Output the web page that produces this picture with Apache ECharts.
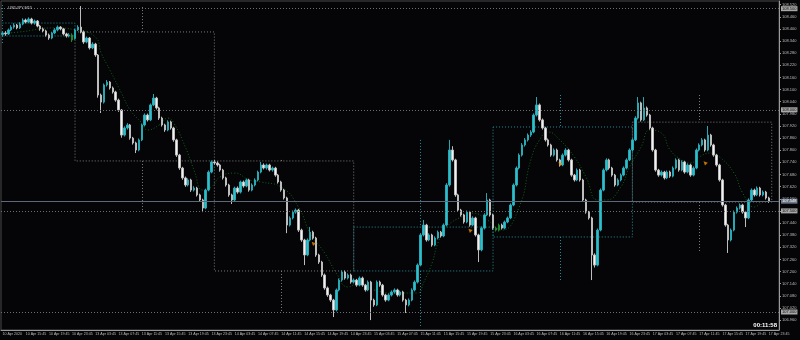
<!DOCTYPE html>
<html><head><meta charset="utf-8">
<script src="https://cdn.jsdelivr.net/npm/echarts@6/dist/echarts.min.js"></script>
<style>html,body{margin:0;padding:0;background:#050507}#c{width:800px;height:340px}</style>
</head><body><div id="c"></div>
<script>
const chartTitle = 'USDJPY,M15';
const timerText = '00:11:58';
const dayNames = ['10 Apr','13 Apr','14 Apr','15 Apr','16 Apr','17 Apr'];

const xTickLabels = ['10 Apr 2020','10 Apr 15:45','10 Apr 19:45','10 Apr 23:45',
 '13 Apr 03:45','13 Apr 07:45','13 Apr 11:45','13 Apr 15:45','13 Apr 19:45','13 Apr 23:45',
 '14 Apr 03:45','14 Apr 07:45','14 Apr 11:45','14 Apr 15:45','14 Apr 19:45','14 Apr 23:45',
 '15 Apr 03:45','15 Apr 07:45','15 Apr 11:45','15 Apr 15:45','15 Apr 19:45','15 Apr 23:45',
 '16 Apr 03:45','16 Apr 07:45','16 Apr 11:45','16 Apr 15:45','16 Apr 19:45','16 Apr 23:45',
 '17 Apr 03:45','17 Apr 07:45','17 Apr 11:45','17 Apr 15:45','17 Apr 19:45','17 Apr 23:45'];

const yTicks = [106.960,107.020,107.080,107.140,107.200,107.260,107.320,107.380,107.440,107.500,
 107.560,107.620,107.680,107.740,107.800,107.860,107.920,107.980,108.040,108.100,108.160,108.220,
 108.280,108.340,108.400,108.460,108.520];

const opens = [108.372,108.380,108.375,108.395,108.409,108.419,108.405,108.424,108.444,108.434,
108.449,108.429,108.439,108.414,108.400,108.390,108.370,108.355,108.380,108.395,
108.409,108.400,108.375,108.365,108.370,108.352,108.395,108.409,108.385,108.335,
108.355,108.306,108.325,108.271,108.073,108.038,108.123,108.137,108.108,108.088,
108.048,107.999,107.875,107.910,107.925,107.860,107.836,107.801,107.851,107.925,
107.974,107.950,108.024,108.058,108.009,107.959,107.925,107.900,107.940,107.910,
107.851,107.776,107.712,107.663,107.628,107.653,107.603,107.613,107.579,107.554,
107.514,107.603,107.692,107.742,107.737,107.727,107.702,107.663,107.628,107.579,
107.554,107.613,107.593,107.643,107.623,107.653,107.603,107.628,107.653,107.692,
107.727,107.712,107.727,107.702,107.712,107.677,107.643,107.603,107.564,107.430,
107.465,107.494,107.504,107.405,107.356,107.282,107.356,107.395,107.366,107.282,
107.247,107.183,107.119,107.084,107.059,107.010,107.109,107.158,107.198,107.168,
107.183,107.148,107.158,107.133,107.168,107.133,107.109,107.148,107.059,107.035,
107.148,107.133,107.084,107.059,107.084,107.099,107.109,107.084,107.099,107.059,
107.035,107.059,107.109,107.148,107.232,107.381,107.430,107.356,107.381,107.331,
107.366,107.395,107.376,107.430,107.628,107.801,107.752,107.579,107.504,107.480,
107.445,107.494,107.430,107.465,107.381,107.307,107.415,107.480,107.554,107.480,
107.415,107.405,107.430,107.415,107.445,107.465,107.529,107.628,107.712,107.776,
107.826,107.851,107.875,107.890,107.974,108.024,107.950,107.910,107.851,107.826,
107.776,107.801,107.752,107.727,107.776,107.801,107.752,107.677,107.653,107.702,
107.653,107.554,107.494,107.465,107.282,107.232,107.405,107.603,107.702,107.752,
107.712,107.677,107.628,107.653,107.677,107.712,107.752,107.801,107.851,107.959,
108.034,107.950,108.009,107.974,107.910,107.801,107.702,107.677,107.692,107.663,
107.692,107.672,107.712,107.752,107.702,107.742,107.692,107.727,107.677,107.712,
107.801,107.826,107.851,107.801,107.875,107.826,107.776,107.727,107.653,107.529,
107.430,107.356,107.405,107.494,107.514,107.529,107.494,107.465,107.554,107.603,
107.579,107.613,107.579,107.593,107.564];

const closes = [108.380,108.375,108.395,108.409,108.419,108.405,108.424,108.444,108.434,108.449,
108.429,108.439,108.414,108.400,108.390,108.370,108.355,108.380,108.395,108.409,
108.400,108.375,108.365,108.370,108.345,108.395,108.409,108.385,108.335,108.355,
108.306,108.325,108.271,108.073,108.038,108.123,108.137,108.108,108.088,108.048,
107.999,107.875,107.910,107.925,107.860,107.836,107.801,107.851,107.925,107.974,
107.950,108.024,108.058,108.009,107.959,107.925,107.900,107.940,107.910,107.851,
107.776,107.712,107.663,107.628,107.653,107.603,107.613,107.579,107.554,107.514,
107.603,107.692,107.742,107.737,107.727,107.702,107.663,107.628,107.579,107.554,
107.613,107.593,107.643,107.623,107.653,107.603,107.628,107.653,107.692,107.727,
107.712,107.727,107.702,107.712,107.677,107.643,107.603,107.564,107.430,107.465,
107.494,107.504,107.405,107.356,107.282,107.356,107.395,107.366,107.282,107.247,
107.183,107.119,107.084,107.059,107.010,107.109,107.158,107.198,107.168,107.183,
107.148,107.158,107.133,107.168,107.133,107.109,107.148,107.059,107.035,107.148,
107.133,107.084,107.059,107.084,107.099,107.109,107.084,107.099,107.059,107.035,
107.059,107.109,107.148,107.232,107.381,107.430,107.356,107.381,107.331,107.366,
107.395,107.376,107.430,107.628,107.801,107.752,107.579,107.504,107.480,107.445,
107.494,107.430,107.465,107.381,107.307,107.415,107.480,107.554,107.480,107.415,
107.405,107.430,107.415,107.445,107.465,107.529,107.628,107.712,107.776,107.826,
107.851,107.875,107.890,107.974,108.024,107.950,107.910,107.851,107.826,107.776,
107.801,107.752,107.727,107.776,107.801,107.752,107.677,107.653,107.702,107.653,
107.554,107.494,107.465,107.282,107.232,107.405,107.603,107.702,107.752,107.712,
107.677,107.628,107.653,107.677,107.712,107.752,107.801,107.851,107.959,108.034,
107.950,108.009,107.974,107.910,107.801,107.702,107.677,107.692,107.663,107.692,
107.672,107.712,107.752,107.702,107.742,107.692,107.727,107.677,107.712,107.801,
107.826,107.851,107.801,107.875,107.826,107.776,107.727,107.653,107.529,107.430,
107.356,107.405,107.494,107.514,107.529,107.494,107.465,107.554,107.603,107.579,
107.613,107.579,107.593,107.564,107.548];

const lows = [108.362,108.366,108.370,108.389,108.401,108.398,108.400,108.418,108.427,108.428,
108.422,108.421,108.408,108.391,108.383,108.362,108.346,108.349,108.374,108.388,
108.393,108.368,108.357,108.358,108.335,108.347,108.390,108.378,108.326,108.329,
108.298,108.300,108.262,108.060,107.984,108.031,108.115,108.100,108.080,108.040,
107.990,107.862,107.868,107.902,107.852,107.828,107.786,107.795,107.845,107.918,
107.942,107.944,108.018,108.001,107.950,107.917,107.891,107.894,107.902,107.842,
107.767,107.703,107.654,107.619,107.621,107.594,107.596,107.571,107.545,107.494,
107.508,107.597,107.686,107.728,107.719,107.694,107.655,107.620,107.570,107.534,
107.548,107.585,107.586,107.615,107.617,107.595,107.597,107.621,107.646,107.686,
107.705,107.704,107.695,107.694,107.669,107.635,107.595,107.556,107.390,107.423,
107.458,107.486,107.396,107.347,107.232,107.276,107.349,107.358,107.273,107.238,
107.174,107.110,107.075,107.050,106.975,107.003,107.102,107.150,107.160,107.161,
107.140,107.141,107.125,107.127,107.125,107.101,107.103,106.960,107.026,107.029,
107.125,107.076,107.051,107.053,107.077,107.091,107.076,107.077,107.051,106.995,
107.028,107.053,107.102,107.141,107.226,107.374,107.348,107.350,107.323,107.325,
107.359,107.368,107.370,107.424,107.620,107.744,107.570,107.496,107.472,107.437,
107.439,107.422,107.424,107.373,107.247,107.300,107.408,107.474,107.472,107.407,
107.398,107.398,107.408,107.409,107.439,107.459,107.523,107.621,107.705,107.769,
107.818,107.843,107.866,107.884,107.967,107.942,107.902,107.843,107.818,107.768,
107.769,107.744,107.719,107.721,107.769,107.744,107.669,107.645,107.647,107.645,
107.546,107.486,107.457,107.158,107.220,107.226,107.399,107.597,107.695,107.704,
107.669,107.620,107.622,107.646,107.671,107.705,107.746,107.794,107.845,107.952,
107.942,107.944,107.966,107.902,107.793,107.694,107.669,107.670,107.655,107.657,
107.664,107.666,107.705,107.694,107.696,107.684,107.686,107.669,107.671,107.706,
107.794,107.819,107.793,107.795,107.818,107.768,107.719,107.645,107.521,107.422,
107.292,107.349,107.399,107.487,107.507,107.486,107.420,107.459,107.547,107.571,
107.573,107.571,107.572,107.556,107.540];

const highs = [108.388,108.389,108.402,108.418,108.428,108.425,108.433,108.452,108.451,108.457,
108.455,108.446,108.444,108.420,108.407,108.396,108.377,108.386,108.404,108.417,
108.414,108.405,108.381,108.379,108.378,108.401,108.418,108.513,108.392,108.362,
108.360,108.334,108.331,108.276,108.080,108.130,108.147,108.142,108.115,108.094,
108.055,108.004,107.918,107.934,107.930,107.866,107.842,107.858,107.932,107.982,
107.981,108.031,108.078,108.064,108.015,107.966,107.931,107.948,107.946,107.916,
107.857,107.782,107.718,107.670,107.661,107.659,107.622,107.619,107.585,107.560,
107.610,107.700,107.749,107.752,107.745,107.733,107.708,107.669,107.634,107.585,
107.620,107.621,107.650,107.650,107.660,107.659,107.636,107.661,107.699,107.742,
107.735,107.734,107.733,107.719,107.718,107.683,107.649,107.609,107.570,107.473,
107.502,107.512,107.510,107.412,107.362,107.364,107.420,107.402,107.372,107.288,
107.253,107.190,107.126,107.090,107.065,107.116,107.166,107.206,107.205,107.191,
107.190,107.166,107.164,107.176,107.175,107.139,107.156,107.154,107.066,107.156,
107.155,107.139,107.090,107.092,107.107,107.117,107.115,107.106,107.105,107.065,
107.067,107.117,107.156,107.240,107.390,107.455,107.436,107.389,107.387,107.374,
107.403,107.401,107.438,107.637,107.851,107.820,107.758,107.585,107.510,107.486,
107.502,107.500,107.473,107.471,107.387,107.423,107.488,107.588,107.560,107.486,
107.422,107.437,107.437,107.452,107.472,107.537,107.636,107.720,107.784,107.835,
107.860,107.883,107.899,107.982,108.063,108.031,107.957,107.916,107.858,107.832,
107.809,107.808,107.758,107.784,107.810,107.807,107.758,107.683,107.710,107.708,
107.659,107.560,107.500,107.471,107.290,107.413,107.611,107.710,107.760,107.758,
107.718,107.683,107.661,107.685,107.720,107.760,107.809,107.859,107.968,108.063,
108.040,108.063,108.016,107.980,107.916,107.807,107.708,107.700,107.698,107.700,
107.699,107.720,107.760,107.758,107.750,107.748,107.735,107.733,107.720,107.809,
107.834,107.860,107.857,107.920,107.881,107.832,107.782,107.733,107.659,107.535,
107.436,107.413,107.502,107.522,107.537,107.535,107.500,107.562,107.611,107.610,
107.621,107.619,107.601,107.599,107.570];

const greenBars = [24, 170, 171];

// moving-average style dotted curve (index, price)
const maIndex = [2,6,18,25,32,34,37,41,44,48,50,54,57,59,63,66,69,72,75,80,85,89,96,102,106,111,115,119,123,128,135,143,145,148,150,153,158,162,167,172,178,182,185,188,192,197,201,205,208,213,216,220,223,227,230,234,237,240,244,247,252,255,259,262];
const maValue = [108.380,108.385,108.405,108.395,108.360,108.281,108.197,108.083,107.999,107.935,107.900,107.925,107.959,107.935,107.816,107.702,107.603,107.618,107.668,107.687,107.653,107.643,107.618,107.519,107.390,107.292,107.193,107.124,107.143,107.109,107.094,107.094,107.143,107.242,107.341,107.420,107.470,107.489,107.455,107.405,107.519,107.752,107.851,107.890,107.851,107.767,107.668,107.554,107.554,107.618,107.717,107.816,107.900,107.885,107.801,107.752,107.737,107.767,107.786,107.767,107.687,107.588,107.519,107.554];

// small trade arrows
const arrowIndex = [107, 161, 192, 242];
const arrowPrice = [107.340, 107.405, 107.735, 107.738];

// round levels and current bid
const levelPrices = [108.500, 108.000, 107.500, 107.000];
const bidPrice = 107.548;

// daily candle overlay: body box and high/low whiskers
const dayOpen  = [108.365, 108.385, 107.747, 107.203, 107.371, 107.939];
const dayClose = [108.429, 107.747, 107.203, 107.420, 107.915, 107.544];
const dayHigh  = [108.518, 108.508, 107.752, 107.851, 108.073, 108.073];
const dayLow   = [108.330, 107.494, 107.000, 106.930, 107.158, 107.292];

// ---- build categories (30-minute bars) ----
const pad = n => (n < 10 ? '0' : '') + n;
const categories = [];
dayNames.forEach((d, k) => {
  for (let m = (k === 0 ? 11 * 60 + 45 : 15); m <= 23 * 60 + 45; m += 30) {
    categories.push(d + ' ' + pad(Math.floor(m / 60)) + ':' + pad(m % 60));
  }
});
const nBars = categories.length;
categories.push(' ', '  ', '   ');

const labelMap = {};
xTickLabels.forEach((t, i) => {
  const cat = i === 0 ? categories[0] : t;
  const idx = categories.indexOf(cat);
  if (idx >= 0) labelMap[idx] = t;
});
const showTick = (idx) => labelMap.hasOwnProperty(idx);

const BULL = '#2cc0cc', BEAR = '#f2f2f2', BULL_B = '#27a9b5', BEAR_B = '#bdbdbd', GREEN = '#1d8a2c';
const candleData = opens.map((o, i) => {
  const item = { value: [o, closes[i], lows[i], highs[i]] };
  if (greenBars.indexOf(i) >= 0) item.itemStyle = { color: GREEN, color0: GREEN, borderColor: GREEN, borderColor0: GREEN };
  return item;
});

// day boxes
const dayStart = dayNames.map((d, k) => k === 0 ? 0 : categories.indexOf(d + ' 00:15'));
const dayEnd = dayNames.map((d, k) => k < dayNames.length - 1 ? dayStart[k + 1] : nBars);
const dayMid = dayNames.map(d => categories.indexOf(d + ' 11:45'));
const TEAL_D = '#23909b', GREY_D = '#7d7d7d';
const areaData = dayNames.map((d, k) => {
  const col = dayClose[k] >= dayOpen[k] ? TEAL_D : GREY_D;
  return [
    { coord: [dayStart[k], Math.max(dayOpen[k], dayClose[k])],
      itemStyle: { color: 'rgba(0,0,0,0)', borderColor: col, borderWidth: 1, borderType: [1, 2] } },
    { coord: [dayEnd[k], Math.min(dayOpen[k], dayClose[k])] }
  ];
});
const lineData = [];
dayNames.forEach((d, k) => {
  const col = dayClose[k] >= dayOpen[k] ? TEAL_D : GREY_D;
  const top = Math.max(dayOpen[k], dayClose[k]), bot = Math.min(dayOpen[k], dayClose[k]);
  const st = { color: col, width: 1, type: [1, 2] };
  if (dayHigh[k] > top + 0.001) lineData.push([{ coord: [dayMid[k], dayHigh[k]], lineStyle: st, label: { show: false } }, { coord: [dayMid[k], top] }]);
  if (dayLow[k] < bot - 0.001) lineData.push([{ coord: [dayMid[k], bot], lineStyle: st, label: { show: false } }, { coord: [dayMid[k], dayLow[k]] }]);
});
levelPrices.forEach(p => {
  lineData.push({ yAxis: p, lineStyle: { color: '#6e6e6e', width: 1, type: [1, 2] },
    label: { show: true, position: 'end', distance: 2, formatter: p.toFixed(3), fontSize: 4, color: '#101010',
      backgroundColor: '#a8a8a8', padding: [1, 1, 0, 1] } });
});
lineData.push({ yAxis: bidPrice, lineStyle: { color: '#5d6878', width: 1, type: 'solid' },
  label: { show: true, position: 'end', distance: 2, formatter: bidPrice.toFixed(3), fontSize: 4, color: '#ffffff',
    backgroundColor: '#6c7789', padding: [1, 1, 0, 1] } });

const chart = echarts.init(document.getElementById('c'), null, { renderer: 'canvas' });
chart.setOption({
  animation: false,
  backgroundColor: '#050507',
  textStyle: { fontFamily: 'Liberation Sans, Arial, sans-serif' },
  title: { text: chartTitle, left: 3, top: 1, textStyle: { fontSize: 4, color: '#c8c8c8', fontWeight: 'normal' } },
  grid: { left: 1, right: 21, top: 1, bottom: 10, containLabel: false, outerBoundsMode: 'none',
    show: true, borderColor: '#4a4a4a', borderWidth: 1 },
  xAxis: {
    type: 'category', data: categories, boundaryGap: true,
    axisLine: { lineStyle: { color: '#9a9a9a', width: 1 } },
    axisTick: { interval: showTick, alignWithLabel: true, length: 2, lineStyle: { color: '#9a9a9a' } },
    axisLabel: { interval: showTick, formatter: (v, i) => labelMap[i] || '', align: 'left',
      fontSize: 3.6, color: '#bdbdbd', margin: 2 },
    splitLine: { show: false }
  },
  yAxis: {
    type: 'value', position: 'right', min: 106.911, max: 108.538,
    axisLine: { show: true, lineStyle: { color: '#9a9a9a', width: 1 } },
    axisTick: { show: true, customValues: yTicks, length: 2, lineStyle: { color: '#9a9a9a' } },
    axisLabel: { customValues: yTicks, formatter: v => v.toFixed(3), fontSize: 4, color: '#bdbdbd', margin: 3 },
    splitLine: { show: false }
  },
  graphic: [{ type: 'text', right: 23, top: 322, z: 100,
    style: { text: timerText, fill: '#ffffff', font: 'bold 6px Liberation Sans, Arial, sans-serif' } }],
  series: [
    {
      type: 'line', data: maIndex.map((x, i) => [x, maValue[i]]), symbol: 'none', smooth: true,
      lineStyle: { color: '#10621a', width: 1, type: [1, 2] }, z: 1, silent: true
    },
    {
      type: 'candlestick', data: candleData, barWidth: 2, z: 3,
      itemStyle: { color: BULL, color0: BEAR, borderColor: BULL_B, borderColor0: BEAR_B, borderWidth: 1 },
      markArea: { silent: true, data: areaData },
      markLine: { silent: true, symbol: ['none', 'none'], precision: 3, data: lineData }
    },
    {
      type: 'scatter', data: arrowIndex.map((x, i) => [x, arrowPrice[i]]), symbol: 'triangle',
      symbolSize: 4, symbolRotate: 45, itemStyle: { color: '#f08c00' }, z: 4, silent: true
    }
  ]
});
</script>
</body></html>
